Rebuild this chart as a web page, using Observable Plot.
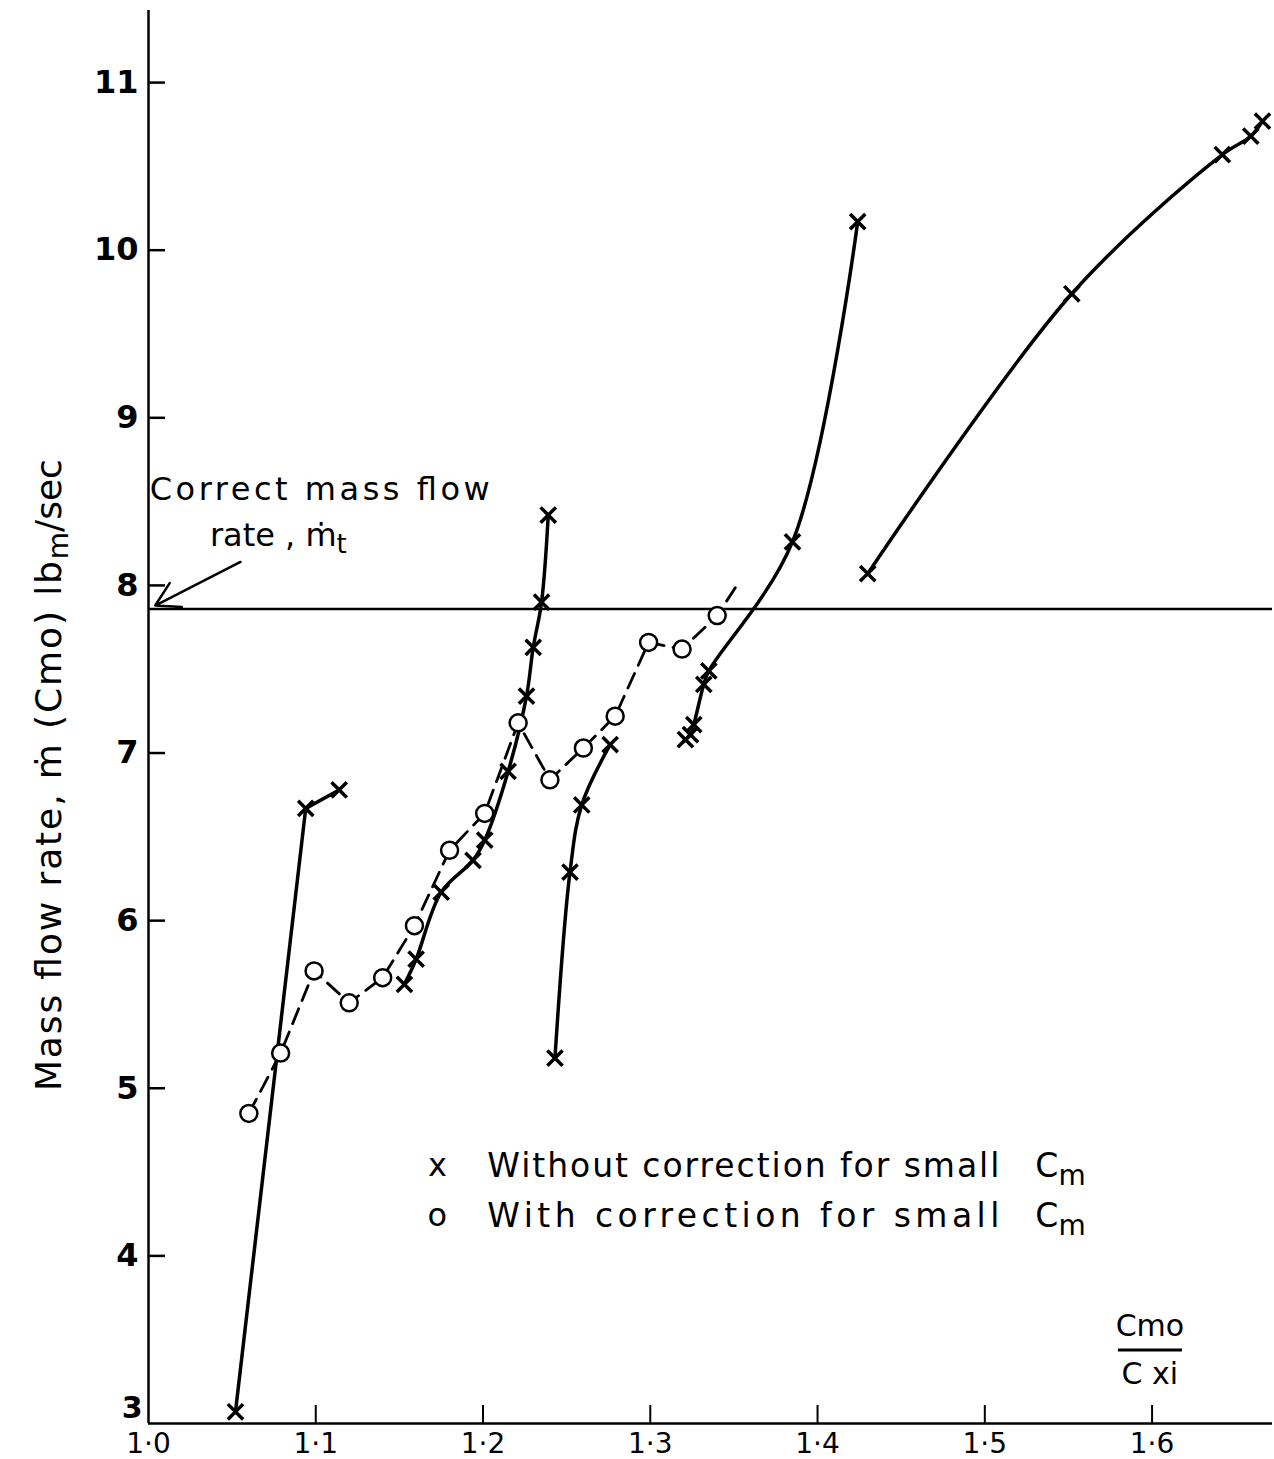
<!DOCTYPE html>
<html>
<head>
<meta charset="utf-8">
<script src="https://cdn.jsdelivr.net/npm/d3@7"></script>
<script src="https://cdn.jsdelivr.net/npm/@observablehq/plot@0.6"></script>
<style>
  html, body { margin: 0; padding: 0; background: #fff; }
  #chart svg { display: block; }
</style>
</head>
<body>
<div id="chart"></div>
<script>
// ---------- data ----------
const xTicks = [1.0, 1.1, 1.2, 1.3, 1.4, 1.5, 1.6];
const yTicks = [3, 4, 5, 6, 7, 8, 9, 10, 11];
const correctRate = 7.86;

// "x" runs — without correction for small Cm (solid lines)
const run1X = [1.052, 1.094, 1.114];
const run1Y = [3.07, 6.67, 6.78];

const run2X = [1.153, 1.160, 1.175, 1.194, 1.201, 1.215, 1.226, 1.230, 1.235, 1.239];
const run2Y = [5.62, 5.77, 6.17, 6.36, 6.48, 6.89, 7.34, 7.63, 7.90, 8.42];

const run3X = [1.243, 1.252, 1.259, 1.276];
const run3Y = [5.18, 6.29, 6.69, 7.05];

const run4X = [1.321, 1.324, 1.326, 1.332, 1.335, 1.385, 1.424];
const run4Y = [7.08, 7.11, 7.17, 7.41, 7.49, 8.26, 10.17];

const run5X = [1.430, 1.552, 1.642, 1.659, 1.666];
const run5Y = [8.07, 9.74, 10.57, 10.68, 10.77];

// "o" run — with correction for small Cm (dashed line)
const corrX = [1.060, 1.079, 1.099, 1.120, 1.140, 1.159, 1.180, 1.201, 1.221, 1.240, 1.260, 1.279, 1.299, 1.319, 1.340];
const corrY = [4.85, 5.21, 5.70, 5.51, 5.66, 5.97, 6.42, 6.64, 7.18, 6.84, 7.03, 7.22, 7.66, 7.62, 7.82];
const corrTailX = [1.353];
const corrTailY = [8.02];

// annotation anchors (data coordinates)
const arrowFrom = [1.055, 8.14];
const arrowTo = [1.004, 7.88];
const annotLine1 = [1.001, 8.57];
const annotLine2 = [1.037, 8.30];
const legendRow1 = [1.173, 4.54];
const legendRow2 = [1.173, 4.24];
const fracAnchor = [1.599, 3.40];

// ---------- build ----------
const zip = (xs, ys) => xs.map((x, i) => ({x, y: ys[i]}));
const runs = [zip(run1X, run1Y), zip(run2X, run2Y), zip(run3X, run3Y), zip(run4X, run4Y), zip(run5X, run5Y)];
const corr = zip(corrX, corrY);
const corrLine = corr.concat(zip(corrTailX, corrTailY));
const fmt = d => d.toFixed(1).replace(".", "·");

const W = 1274, H = 1459;
const mL = 148, mR = 2, mT = 10, mB = 36;
const frameW = W - mL - mR, frameH = H - mT - mB;

const plot = Plot.plot({
  width: W, height: H,
  marginLeft: mL, marginRight: mR, marginTop: mT, marginBottom: mB,
  x: {domain: [1.0, 1.672]},
  y: {domain: [3, 11.43]},
  style: {background: "#fff", color: "#000", fontFamily: "'DejaVu Sans', sans-serif", overflow: "visible"},
  marks: [
    Plot.ruleX([1.0], {stroke: "#000", strokeWidth: 2.5}),
    Plot.ruleY([3], {stroke: "#000", strokeWidth: 2.5}),
    Plot.ruleX(xTicks.slice(1), {stroke: "#000", strokeWidth: 2, insetTop: frameH - 18}),
    Plot.ruleY(yTicks.slice(1), {stroke: "#000", strokeWidth: 2.5, insetRight: frameW - 17}),
    Plot.axisX({ticks: xTicks, tickSize: 0, tickPadding: 10, tickFormat: fmt, fontSize: 28, label: null}),
    Plot.axisY({ticks: yTicks.slice(1), tickSize: 0, tickPadding: 10, fontSize: 32, fontWeight: "bold", label: null}),
    Plot.axisY({ticks: yTicks.slice(0, 1), tickSize: 0, tickPadding: 6, dy: -15, fontSize: 30, fontWeight: "bold", label: null}),
    Plot.ruleY([correctRate], {stroke: "#000", strokeWidth: 2.5}),
    Plot.arrow([0], {x1: () => arrowFrom[0], y1: () => arrowFrom[1], x2: () => arrowTo[0], y2: () => arrowTo[1],
      stroke: "#000", strokeWidth: 2.5, headLength: 16}),
    Plot.line(corrLine, {x: "x", y: "y", stroke: "#000", strokeWidth: 2.8, strokeDasharray: "16,9"}),
    Plot.line(runs[0], {x: "x", y: "y", stroke: "#000", strokeWidth: 3.5}),
    ...runs.slice(1).map(r => Plot.line(r, {x: "x", y: "y", stroke: "#000", strokeWidth: 3.5, curve: "catmull-rom"})),
    Plot.dot(corr, {x: "x", y: "y", r: 8.5, fill: "#fff", stroke: "#000", strokeWidth: 2.5}),
    ...runs.map(r => Plot.dot(r, {x: "x", y: "y", symbol: "times", r: 7, stroke: "#000", strokeWidth: 3.5}))
  ]
});

document.getElementById("chart").appendChild(plot);

// ---------- text overlays (through the plot's scales) ----------
const svg = d3.select(plot);
const sx = v => plot.scale("x").apply(v);
const sy = v => plot.scale("y").apply(v);
const g = svg.append("g")
  .attr("font-family", "'DejaVu Sans', sans-serif")
  .attr("text-anchor", "start")
  .attr("fill", "#000");

// Annotation
g.append("text").attr("x", sx(annotLine1[0])).attr("y", sy(annotLine1[1]))
  .attr("font-size", 32).attr("dominant-baseline", "central")
  .attr("textLength", 340).attr("lengthAdjust", "spacing")
  .text("Correct mass flow");
const t2 = g.append("text").attr("x", sx(annotLine2[0])).attr("y", sy(annotLine2[1]))
  .attr("font-size", 32).attr("dominant-baseline", "central");
t2.append("tspan").text("rate , ṁ");
t2.append("tspan").attr("font-size", 26).attr("dy", 9).text("t");

// Legend
function legendRow(anchor, sym, label) {
  const x0 = sx(anchor[0]), y0 = sy(anchor[1]);
  g.append("text").attr("x", x0).attr("y", y0).attr("font-size", 32).attr("text-anchor", "middle")
    .attr("dominant-baseline", "central").text(sym);
  const t = g.append("text").attr("x", x0 + 50).attr("y", y0).attr("font-size", 33)
    .attr("dominant-baseline", "central");
  t.append("tspan").attr("textLength", 512).attr("lengthAdjust", "spacing").text(label);
  t.append("tspan").attr("x", x0 + 598).text("C");
  t.append("tspan").attr("font-size", 28).attr("dy", 10).text("m");
}
legendRow(legendRow1, "x", "Without correction for small");
legendRow(legendRow2, "o", "With correction for small");

// x-axis fraction label Cmo / Cxi
const fx = sx(fracAnchor[0]), fy = sy(fracAnchor[1]);
g.append("text").attr("x", fx).attr("y", fy - 20).attr("font-size", 30).attr("text-anchor", "middle").text("Cmo");
g.append("line").attr("x1", fx - 32).attr("x2", fx + 32).attr("y1", fy - 6).attr("y2", fy - 6)
  .attr("stroke", "#000").attr("stroke-width", 3);
g.append("text").attr("x", fx).attr("y", fy + 28).attr("font-size", 30).attr("text-anchor", "middle").text("C xi");

// y-axis title
const yt = g.append("text").attr("transform", `translate(48, ${sy(4.98)}) rotate(-90)`)
  .attr("font-size", 36).attr("dominant-baseline", "central");
yt.append("tspan").attr("textLength", 530).attr("lengthAdjust", "spacing").text("Mass flow rate, ṁ (Cmo) lb");
yt.append("tspan").attr("font-size", 28).attr("dy", 10).text("m");
yt.append("tspan").attr("dy", -10).text("/sec");
</script>
</body>
</html>
